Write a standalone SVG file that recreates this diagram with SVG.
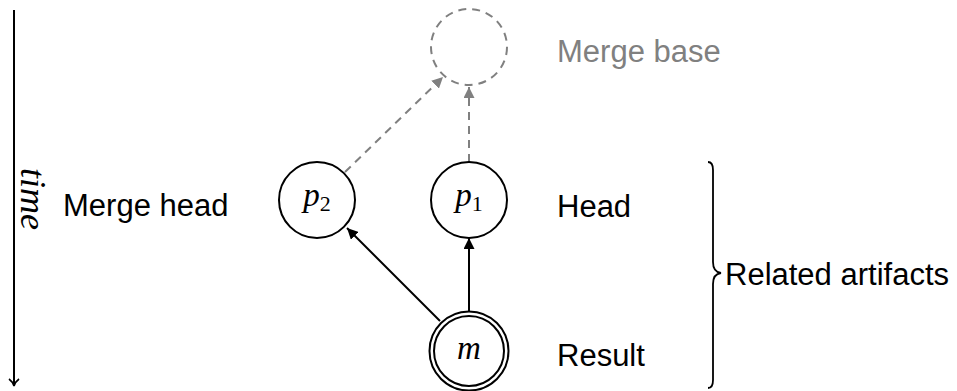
<svg xmlns="http://www.w3.org/2000/svg" width="957" height="391" viewBox="0 0 957 391">
<style>
.lbl{font-family:"Liberation Sans",Arial,sans-serif;font-size:31px;fill:#000}
.gray{fill:#808080}
.math{font-family:"Liberation Serif","Times New Roman",serif;font-style:italic;font-size:33px;fill:#000}
.sub{font-family:"Liberation Serif","Times New Roman",serif;font-style:normal;font-size:22px}
.node{fill:#fff;stroke:#000;stroke-width:2}
.edge{stroke:#000;stroke-width:2;fill:none}
.dedge{stroke:#808080;stroke-width:2;fill:none;stroke-dasharray:8,6}
</style>
<defs>
<marker id="ahb" viewBox="0 0 10 10" refX="10" refY="5" markerWidth="11" markerHeight="11" orient="auto" markerUnits="userSpaceOnUse">
<path d="M0,0 L10,5 L0,10 z" fill="#000"/>
</marker>
<marker id="ahg" viewBox="0 0 10 10" refX="10" refY="5" markerWidth="11" markerHeight="11" orient="auto" markerUnits="userSpaceOnUse">
<path d="M0,0 L10,5 L0,10 z" fill="#808080"/>
</marker>
<marker id="hook" viewBox="0 0 12 12" refX="10" refY="6" markerWidth="12" markerHeight="12" orient="auto" markerUnits="userSpaceOnUse">
<path d="M3,1 Q6,5 10,6 Q6,7 3,11" fill="none" stroke="#000" stroke-width="1.6"/>
</marker>
</defs>
<g id="time-axis">
<line x1="14" y1="10" x2="14" y2="386" class="edge" marker-end="url(#hook)"/>
<text class="math" transform="translate(21,199) rotate(90)" text-anchor="middle" style="font-size:36px">time</text>
</g>
<g id="connectors">
<line x1="345" y1="172" x2="443" y2="77" class="dedge" marker-end="url(#ahg)"/>
<line x1="469" y1="162" x2="469" y2="87" class="dedge" marker-end="url(#ahg)"/>
<line x1="440" y1="321" x2="347" y2="228" class="edge" marker-end="url(#ahb)"/>
<line x1="469" y1="311" x2="469" y2="238" class="edge" marker-end="url(#ahb)"/>
</g>
<g id="merge-base">
<circle cx="469" cy="47" r="38" fill="none" stroke="#808080" stroke-width="2" stroke-dasharray="8,6"/>
<text class="lbl gray" x="557" y="62">Merge base</text>
</g>
<g id="p2">
<circle cx="317" cy="200" r="38" class="node"/>
<text class="math" x="317" y="206" text-anchor="middle">p<tspan class="sub" dy="5">2</tspan></text>
</g>
<g id="p1">
<circle cx="469" cy="200" r="38" class="node"/>
<text class="math" x="469" y="206" text-anchor="middle">p<tspan class="sub" dy="5">1</tspan></text>
</g>
<g id="m">
<circle cx="469" cy="351" r="39.5" class="node"/>
<circle cx="469" cy="351" r="35" class="node"/>
<text class="math" x="469" y="359" text-anchor="middle">m</text>
</g>
<g id="labels">
<text class="lbl" x="63" y="216">Merge head</text>
<text class="lbl" x="557" y="217">Head</text>
<text class="lbl" x="557" y="366">Result</text>
</g>
<g id="brace">
<path d="M708,162 Q713,162 713,170 L713,262 Q713,272 721,273 Q713,274 713,284 L713,380 Q713,388 708,388" fill="none" stroke="#000" stroke-width="1.8"/>
<text class="lbl" x="725" y="285">Related artifacts</text>
</g>
</svg>
